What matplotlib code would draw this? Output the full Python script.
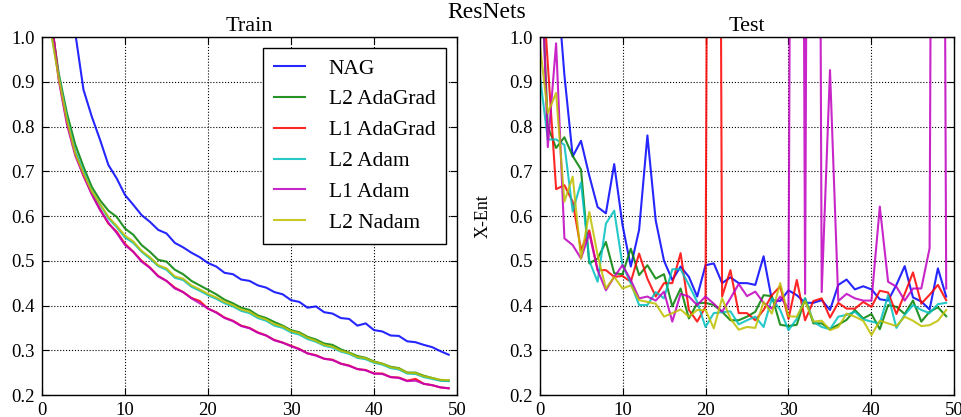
import numpy as np
import matplotlib
matplotlib.use("Agg")
import matplotlib.pyplot as plt

plt.rcParams['font.family'] = ['Liberation Serif', 'DejaVu Serif']

epochs = np.arange(50)
names = ['NAG', 'L2 AdaGrad', 'L1 AdaGrad', 'L2 Adam', 'L1 Adam', 'L2 Nadam']
colors = ['b', 'g', 'r', 'c', 'm', 'y']

# train loss
train_nag = [1.8, 1.5, 1.3, 1.15, 1.01, 0.882, 0.822, 0.77, 0.714, 0.684, 0.647, 0.625, 0.602, 0.587, 0.569, 0.561,
             0.54, 0.53, 0.518, 0.508, 0.495, 0.487, 0.473, 0.47, 0.458, 0.455, 0.445, 0.44, 0.43, 0.425, 0.412, 0.408,
             0.395, 0.398, 0.385, 0.382, 0.372, 0.37, 0.355, 0.36, 0.345, 0.342, 0.333, 0.332, 0.32, 0.318, 0.312,
             0.307, 0.298, 0.29]
train_l2_adagrad = [1.5, 1.05, 0.92, 0.83, 0.76, 0.71, 0.665, 0.635, 0.612, 0.598, 0.572, 0.558, 0.535, 0.52, 0.502,
                    0.498, 0.48, 0.47, 0.455, 0.445, 0.435, 0.425, 0.413, 0.405, 0.395, 0.39, 0.378, 0.372, 0.363,
                    0.355, 0.345, 0.34, 0.33, 0.324, 0.315, 0.312, 0.302, 0.295, 0.287, 0.283, 0.275, 0.27, 0.263,
                    0.26, 0.25, 0.25, 0.243, 0.238, 0.233, 0.232]
train_l1_adagrad = [1.5, 1.06, 0.91, 0.81, 0.74, 0.69, 0.65, 0.615, 0.583, 0.565, 0.538, 0.52, 0.5, 0.485, 0.466,
                    0.455, 0.44, 0.43, 0.417, 0.41, 0.393, 0.385, 0.373, 0.366, 0.355, 0.35, 0.34, 0.333, 0.323,
                    0.317, 0.31, 0.303, 0.293, 0.289, 0.281, 0.279, 0.27, 0.266, 0.258, 0.256, 0.248, 0.248, 0.24,
                    0.239, 0.232, 0.236, 0.225, 0.222, 0.217, 0.215]
train_l2_adam = [1.45, 1.02, 0.915, 0.82, 0.745, 0.70, 0.655, 0.625, 0.595, 0.575, 0.552, 0.54, 0.52, 0.505, 0.488,
                 0.48, 0.462, 0.457, 0.442, 0.433, 0.423, 0.415, 0.405, 0.398, 0.388, 0.383, 0.372, 0.366, 0.355, 0.35,
                 0.34, 0.335, 0.325, 0.319, 0.31, 0.306, 0.297, 0.292, 0.283, 0.28, 0.272, 0.268, 0.26, 0.257, 0.248,
                 0.247, 0.24, 0.236, 0.232, 0.231]
train_l1_adam = [1.5, 1.06, 0.905, 0.805, 0.735, 0.69, 0.648, 0.613, 0.585, 0.562, 0.535, 0.52, 0.498, 0.484, 0.465,
                 0.455, 0.438, 0.43, 0.416, 0.405, 0.393, 0.384, 0.372, 0.365, 0.354, 0.349, 0.339, 0.333, 0.322,
                 0.317, 0.309, 0.302, 0.293, 0.288, 0.281, 0.278, 0.27, 0.265, 0.258, 0.255, 0.248, 0.247, 0.24,
                 0.238, 0.231, 0.232, 0.225, 0.222, 0.217, 0.215]
train_l2_nadam = [1.45, 1.02, 0.91, 0.815, 0.74, 0.695, 0.655, 0.627, 0.598, 0.578, 0.556, 0.543, 0.522, 0.508, 0.49,
                  0.483, 0.465, 0.46, 0.445, 0.436, 0.426, 0.418, 0.408, 0.401, 0.391, 0.386, 0.375, 0.369, 0.358,
                  0.353, 0.343, 0.338, 0.328, 0.321, 0.312, 0.308, 0.299, 0.294, 0.285, 0.282, 0.274, 0.27, 0.262,
                  0.259, 0.25, 0.249, 0.242, 0.238, 0.234, 0.233]

# test loss (5.0 = spike far above the plotted range)
test_nag = [1.6, 1.35, 1.15, 0.915, 0.733, 0.768, 0.69, 0.62, 0.606, 0.716, 0.58, 0.487, 0.569, 0.78, 0.59, 0.5,
            0.457, 0.487, 0.464, 0.42, 0.49, 0.494, 0.45, 0.463, 0.45, 0.45, 0.446, 0.51, 0.412, 0.41, 0.434, 0.423,
            0.406, 0.406, 0.412, 0.39, 0.446, 0.458, 0.436, 0.443, 0.436, 0.414, 0.411, 0.446, 0.488, 0.418, 0.409,
            0.391, 0.483, 0.42]
test_l2_adagrad = [1.25, 0.80, 0.752, 0.776, 0.734, 0.704, 0.494, 0.505, 0.542, 0.472, 0.47, 0.527, 0.468, 0.49,
                   0.46, 0.47, 0.398, 0.438, 0.371, 0.405, 0.406, 0.401, 0.386, 0.367, 0.367, 0.375, 0.386, 0.423,
                   0.421, 0.357, 0.354, 0.357, 0.416, 0.36, 0.36, 0.347, 0.357, 0.368, 0.39, 0.371, 0.381, 0.347,
                   0.401, 0.397, 0.381, 0.411, 0.364, 0.386, 0.396, 0.376]
test_l1_adagrad = [1.22, 0.94, 0.66, 0.669, 0.632, 0.524, 0.568, 0.479, 0.479, 0.464, 0.466, 0.453, 0.516, 0.46,
                   0.42, 0.45, 0.45, 0.517, 0.39, 0.364, 0.397, 5.0, 0.42, 0.479, 0.383, 0.383, 0.367, 0.39, 0.423,
                   0.443, 0.37, 0.457, 0.367, 0.41, 0.416, 0.373, 0.406, 0.393, 0.393, 0.408, 0.397, 0.433, 0.429,
                   0.381, 0.426, 0.474, 0.404, 0.424, 0.446, 0.412]
test_l2_adam = [0.92, 0.771, 0.771, 0.759, 0.61, 0.675, 0.50, 0.453, 0.583, 0.612, 0.49, 0.45, 0.401, 0.401, 0.43,
                0.416, 0.481, 0.481, 0.446, 0.408, 0.352, 0.383, 0.385, 0.387, 0.358, 0.367, 0.375, 0.352, 0.416,
                0.39, 0.345, 0.37, 0.416, 0.364, 0.352, 0.347, 0.375, 0.379, 0.386, 0.369, 0.364, 0.36, 0.423, 0.35,
                0.379, 0.401, 0.39, 0.383, 0.403, 0.406]
test_l1_adam = [1.3, 0.754, 0.986, 0.55, 0.535, 0.505, 0.561, 0.479, 0.434, 0.464, 0.49, 0.457, 0.416, 0.42, 0.411,
                0.431, 0.364, 0.426, 0.42, 0.401, 0.42, 0.404, 0.386, 0.416, 0.448, 0.421, 0.431, 0.406, 0.393, 0.42,
                0.393, 5.0, 0.426, 5.0, 0.43, 0.926, 0.41, 0.426, 0.416, 0.411, 0.411, 0.621, 0.453, 0.442, 0.411,
                0.438, 0.438, 0.528, 5.0, 0.438]
test_l2_nadam = [0.99, 0.83, 0.875, 0.632, 0.688, 0.505, 0.609, 0.513, 0.438, 0.464, 0.438, 0.445, 0.412, 0.408,
                 0.404, 0.375, 0.383, 0.391, 0.375, 0.39, 0.39, 0.349, 0.416, 0.371, 0.346, 0.352, 0.35, 0.408, 0.382,
                 0.45, 0.376, 0.375, 0.41, 0.364, 0.366, 0.345, 0.352, 0.382, 0.375, 0.366, 0.334, 0.366, 0.36,
                 0.354, 0.375, 0.366, 0.354, 0.356, 0.366, 0.39]

train = [train_nag, train_l2_adagrad, train_l1_adagrad, train_l2_adam, train_l1_adam, train_l2_nadam]
test = [test_nag, test_l2_adagrad, test_l1_adagrad, test_l2_adam, test_l1_adam, test_l2_nadam]

W, H = 962, 417
fig = plt.figure(figsize=(W / 100, H / 100), dpi=100)
ax1 = fig.add_axes([42 / W, 22 / H, 415 / W, 358 / H])
ax2 = fig.add_axes([539.5 / W, 22 / H, 415 / W, 358 / H])

for ax, data in [(ax1, train), (ax2, test)]:
    for y, c, name in zip(data, colors, names):
        ax.plot(epochs, y, color=c, lw=1.5, alpha=0.85, label=name)
    ax.set_xlim(0, 50)
    ax.set_ylim(0.2, 1.0)
    ax.set_xticks(np.arange(0, 51, 10))
    ax.set_yticks(np.arange(0.2, 1.01, 0.1))
    ax.set_yticklabels([f"{v:.1f}" for v in np.arange(0.2, 1.01, 0.1)])
    ax.grid(True, linestyle=':', color='k', lw=0.8)
    ax.tick_params(direction='in', top=True, right=True, length=5, labelsize=13.5, pad=5)
    for s in ax.spines.values():
        s.set_linewidth(1.0)

ax1.set_title('Train', fontsize=16, pad=4)
ax2.set_title('Test', fontsize=16, pad=4)
ax2.set_ylabel('X-Ent', fontsize=13)
ax2.yaxis.set_label_coords(-(539.5 - 492) / 415, 0.5)
fig.text(487 / W, 1 - 12.5 / H, 'ResNets', ha='center', va='center', fontsize=17)

leg = ax1.legend(loc='upper right', fontsize=15.5, fancybox=False, framealpha=1, edgecolor='k',
                 borderaxespad=0.5, handlelength=1.45, handletextpad=1.1, labelspacing=0.5, borderpad=0.5)
leg.get_frame().set_linewidth(1.0)
for line in leg.get_lines():
    line.set_alpha(0.85)

fig.savefig('out.png', dpi=100)
